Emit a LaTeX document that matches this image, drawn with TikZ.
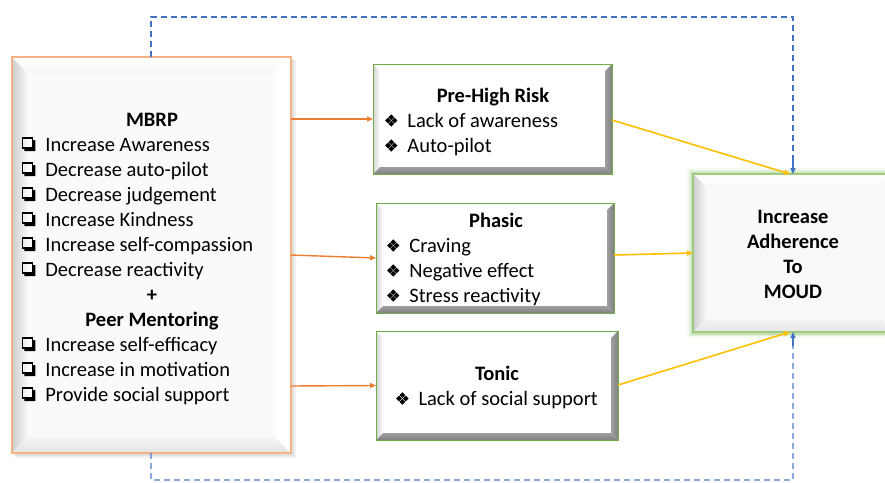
\documentclass[tikz,border=0pt]{standalone}
\usepackage{fontspec}
\setmainfont{Carlito}
\usetikzlibrary{arrows.meta,calc}
\definecolor{orgb}{RGB}{244,177,131}
\definecolor{orga}{RGB}{237,125,49}
\definecolor{yel}{RGB}{255,192,0}
\definecolor{blu}{RGB}{68,114,196}
\definecolor{grn}{RGB}{112,173,71}
\definecolor{lgrn}{RGB}{169,209,142}
\definecolor{dgray}{RGB}{128,128,128}
\definecolor{mgray}{RGB}{160,160,160}

\newcommand\chk{\tikz[baseline=0pt,x=1pt,y=1pt]{%
  \draw[line width=1.1pt] (0.6,3) rectangle (10.6,13);
  \fill (2.5,0) -- (13.4,0) -- (13.4,11) -- (11.1,11) -- (11.1,2.5) -- (2.5,2.5) -- cycle;}}
\newcommand\dia{\tikz[baseline=0pt,x=1pt,y=1pt]{%
  \foreach \cx/\cy in {3.2/6.5,9.8/6.5,6.5/9.8,6.5/3.2}
    \fill (\cx-2.9,\cy) -- (\cx,\cy+2.9) -- (\cx+2.9,\cy) -- (\cx,\cy-2.9) -- cycle;}}
% bevel: x1 y1 x2 y2 b top left right bottom
\newcommand\bevel[9]{%
  \path[#6] (#1,#2) -- (#3,#2) -- ({#3-#5},{#2+#5}) -- ({#1+#5},{#2+#5}) -- cycle;
  \path[#7] (#1,#2) -- ({#1+#5},{#2+#5}) -- ({#1+#5},{#4-#5}) -- (#1,#4) -- cycle;
  \path[#8] (#3,#2) -- (#3,#4) -- ({#3-#5},{#4-#5}) -- ({#3-#5},{#2+#5}) -- cycle;
  \path[#9] (#1,#4) -- (#3,#4) -- ({#3-#5},{#4-#5}) -- ({#1+#5},{#4-#5}) -- cycle;}

\tikzset{
  boxnode/.style={rectangle, inner sep=0pt, outer sep=0pt, draw=none, fill=#1},
  txt/.style={inner sep=0pt, outer sep=0pt},
  tip/.style={-{Triangle[length=6pt,width=5pt]}},
  oarrow/.style={orga, line width=1.4pt, tip},
  yarrow/.style={yel, line width=1.6pt, tip},
  bline/.style={blu, line width=1.4pt, dash pattern=on 6pt off 4pt},
}
\newcommand\fs{\fontsize{20.5}{25}\selectfont}

\begin{document}
\begin{tikzpicture}[x=1pt,y=-1pt]
\useasboundingbox (0,0) rectangle (885,482);
\clip (0,0) rectangle (885,482);
\fill[white] (0,0) rectangle (885,482);

% ---------- MBRP box ----------
\fill[black,opacity=0.06] (15,60) rectangle (296,458);
\fill[black,opacity=0.06] (14,59) rectangle (294,456);
\node[boxnode={gray!4}, minimum width=279pt, minimum height=396pt] (mbrp) at (151,255) {};
\bevel{11.5}{57}{290.5}{453}{16}{shade,top color=white,bottom color=gray!6}{shade,left color=gray!40,right color=gray!5}{fill=white}{shade,top color=gray!8,bottom color=gray!22}
\draw[orgb, line width=2pt] (mbrp.north west) rectangle (mbrp.south east);

% ---------- middle boxes ----------
\node[boxnode=white, minimum width=239pt, minimum height=110pt] (phr) at (492.5,119) {};
\bevel{373}{64}{612}{174}{7}{fill=white}{shade,left color=gray!35,right color=white}{shade,left color=mgray,right color=dgray}{shade,top color=mgray,bottom color=dgray}
\draw[grn, line width=1pt] (phr.north west) rectangle (phr.south east);

\node[boxnode=white, minimum width=238pt, minimum height=110pt] (pha) at (495,258) {};
\bevel{376}{203}{614}{313}{7}{fill=white}{shade,left color=gray!35,right color=white}{shade,left color=mgray,right color=dgray}{shade,top color=mgray,bottom color=dgray}
\draw[grn, line width=1pt] (pha.north west) rectangle (pha.south east);

\node[boxnode=white, minimum width=242pt, minimum height=109pt] (ton) at (497,385.5) {};
\bevel{376}{331}{618}{440}{7}{fill=white}{shade,left color=gray!35,right color=white}{shade,left color=mgray,right color=dgray}{shade,top color=mgray,bottom color=dgray}
\draw[grn, line width=1pt] (ton.north west) rectangle (ton.south east);

% ---------- MOUD box ----------
\draw[lgrn, line width=12pt, opacity=0.12] (693,174) rectangle (900,332);
\draw[lgrn, line width=8pt, opacity=0.25] (693,174) rectangle (900,332);
\draw[lgrn, line width=5pt, opacity=0.45] (693,174) rectangle (900,332);
\node[boxnode={gray!5}, minimum width=200pt, minimum height=158pt] (moud) at (793,253) {};
\bevel{693}{174}{893}{332}{13}{shade,top color=white,bottom color=gray!4}{shade,left color=gray!40,right color=gray!6}{fill=gray!5}{shade,top color=gray!8,bottom color=gray!20}
\draw[lgrn!80!grn, line width=2pt] (moud.north west) rectangle (moud.south east);

% ---------- texts ----------
\node[txt, anchor=base west] (mbrptxt) at (22,126) {\begin{minipage}[t]{260pt}\fs
{\centering\bfseries MBRP\par}
\chk\hspace{10pt}Increase Awareness\par
\chk\hspace{10pt}Decrease auto-pilot\par
\chk\hspace{10pt}Decrease judgement\par
\chk\hspace{10pt}Increase Kindness\par
\chk\hspace{10pt}Increase self-compassion\par
\chk\hspace{10pt}Decrease reactivity\par
{\centering\bfseries +\par}
{\centering\bfseries Peer Mentoring\par}
\chk\hspace{10pt}Increase self-efficacy\par
\chk\hspace{10pt}Increase in motivation\par
\chk\hspace{10pt}Provide social support\par
\end{minipage}};

\node[txt, anchor=base west] (phrtxt) at (385,102) {\begin{minipage}[t]{216pt}\fs
{\centering\bfseries Pre-High Risk\par}
\dia\hspace{10pt}Lack of awareness\par
\dia\hspace{10pt}Auto-pilot\par
\end{minipage}};

\node[txt, anchor=base west] (phatxt) at (387,227) {\begin{minipage}[t]{218pt}\fs
{\centering\bfseries Phasic\par}
\dia\hspace{10pt}Craving\par
\dia\hspace{10pt}Negative effect\par
\dia\hspace{10pt}Stress reactivity\par
\end{minipage}};

\node[txt, anchor=base] (tontxt) at (497,380) {\begin{minipage}[t]{230pt}\fs\centering
{\bfseries Tonic\par}
\dia\hspace{10pt}Lack of social support\par
\end{minipage}};

\node[txt, anchor=base] (moudtxt) at (793,223) {\begin{minipage}[t]{180pt}\fs\centering\bfseries
Increase\par Adherence\par To\par MOUD\par
\end{minipage}};

% ---------- connectors ----------
\draw[oarrow] (mbrp.east |- 0,119) -- (phr.west);
\draw[oarrow] (mbrp.east |- 0,255) -- (pha.west);
\draw[oarrow] (mbrp.east |- 0,386) -- (ton.west);

\draw[yarrow] (phr.east |- 0,120) -- ($(moud.north)+(-3,0)$);
\draw[yarrow] (pha.east |- 0,255) -- (moud.west);
\draw[yarrow] (ton.east |- 0,385) -- ($(moud.south)+(-3,0)$);

\coordinate (tl) at (151,17);
\coordinate (tr) at (793,17);
\coordinate (bl) at (151,480);
\coordinate (br) at (793,480);
\coordinate (tn) at (793,160);
\coordinate (bn) at (793,346);
\draw[bline] (mbrp.north) -- (tl) -- (tr) -- (tn);
\draw[blu, line width=1.3pt, tip] (tn) -- (moud.north);
\draw[bline, opacity=0.6] (mbrp.south) -- (bl) -- (br) -- (bn);
\draw[blu, line width=1.3pt, tip] (bn) -- (moud.south);
\end{tikzpicture}
\end{document}
